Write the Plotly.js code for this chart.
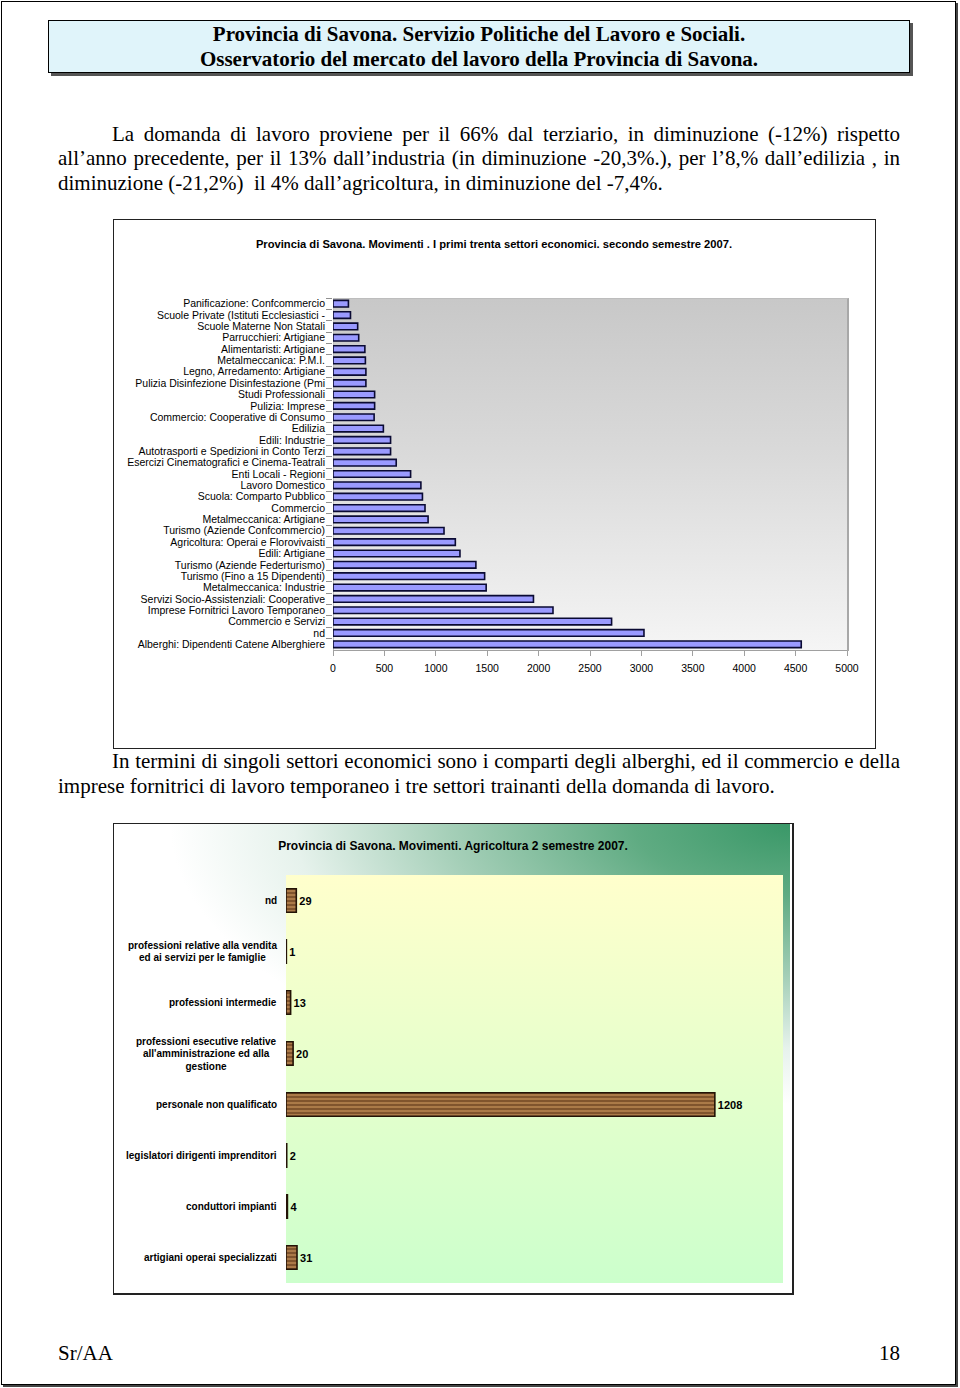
<!DOCTYPE html>
<html>
<head>
<meta charset="utf-8">
<script src="https://cdn.plot.ly/plotly-3.0.1.min.js"></script>
<style>
  html, body { margin:0; padding:0; background:#fff; }
  body { width:960px; height:1388px; position:relative; overflow:hidden; }
  .abs { position:absolute; }
  .serif { font-family:"Liberation Serif","Times New Roman",serif; color:#000; }
  .line { position:absolute; font-size:21px; white-space:nowrap; line-height:24px; }
</style>
</head>
<body>
<!-- page frame -->
<div class="abs" style="left:1px;top:1px;width:953px;height:1382px;border:1px solid #000;box-shadow:2px 2px 0 #444;"></div>

<!-- header box -->
<div class="abs serif" style="left:48px;top:20px;width:860px;height:51px;border:1px solid #000;background:#e0f4fa;box-shadow:3px 3px 0 #555;text-align:center;font-weight:bold;font-size:21px;line-height:25px;">
  <div style="margin-top:1px">Provincia di Savona. Servizio Politiche del Lavoro e Sociali.</div>
  <div>Osservatorio del mercato del lavoro della Provincia di Savona.</div>
</div>

<!-- paragraph 1 -->
<div class="line serif just" data-w="788" style="left:112px;top:122px;">La domanda di lavoro proviene per il 66% dal terziario, in diminuzione (-12%) rispetto</div>
<div class="line serif just" data-w="842" style="left:58px;top:146px;">all’anno precedente, per il 13% dall’industria (in diminuzione -20,3%.), per l’8,% dall’edilizia , in</div>
<div class="line serif" style="left:58px;top:171px;">diminuzione (-21,2%)&nbsp; il 4% dall’agricoltura, in diminuzione del -7,4%.</div>

<!-- top chart frame and background -->
<div class="abs" style="left:113px;top:219px;width:761px;height:528px;border:1px solid #222;"></div>
<div class="abs" style="left:333px;top:298px;width:513px;height:352px;background:linear-gradient(to bottom,#c8c8c8 0%,#dadada 45%,#f5f5f5 100%);border-right:2px solid #a8a8a8;border-top:1px solid #bdbdbd;border-left:1px solid #bdbdbd;"></div>
<div id="chart1" class="abs" style="left:114px;top:220px;width:760px;height:527px;"></div>

<!-- paragraph 2 -->
<div class="line serif just" data-w="788" style="left:112px;top:749px;">In termini di singoli settori economici sono i comparti degli alberghi, ed il commercio e della</div>
<div class="line serif" style="left:58px;top:774px;">imprese fornitrici di lavoro temporaneo i tre settori trainanti della domanda di lavoro.</div>

<!-- bottom chart frame and backgrounds -->
<div class="abs" style="left:113px;top:823px;width:678px;height:469px;border:1px solid #222;border-right:2px solid #222;border-bottom:2px solid #222;"></div>
<div class="abs" style="left:114px;top:824px;width:676px;height:468px;background:radial-gradient(ellipse 620px 280px at 100% 0%, #3a9868 0%, #5fab82 25%, #a5cfb8 55%, #e6f2ec 80%, #ffffff 100%);"></div>
<div class="abs" style="left:286px;top:875px;width:497px;height:408px;background:linear-gradient(to bottom,#ffffcc 0%,#ccffcc 100%);"></div>
<div id="chart2" class="abs" style="left:114px;top:824px;width:678px;height:469px;"></div>

<!-- footer -->
<div class="abs serif" style="left:58px;top:1341px;font-size:21px;">Sr/AA</div>
<div class="abs serif" style="left:879px;top:1341px;font-size:21px;">18</div>

<script>
// ---------- Data: top chart ----------
const sectorLabels = [
  "Panificazione: Confcommercio",
  "Scuole Private (Istituti Ecclesiastici -",
  "Scuole Materne Non Statali",
  "Parrucchieri: Artigiane",
  "Alimentaristi: Artigiane",
  "Metalmeccanica: P.M.I.",
  "Legno, Arredamento: Artigiane",
  "Pulizia Disinfezione Disinfestazione (Pmi",
  "Studi Professionali",
  "Pulizia: Imprese",
  "Commercio: Cooperative di Consumo",
  "Edilizia",
  "Edili: Industrie",
  "Autotrasporti e Spedizioni in Conto Terzi",
  "Esercizi Cinematografici e Cinema-Teatrali",
  "Enti Locali - Regioni",
  "Lavoro Domestico",
  "Scuola: Comparto Pubblico",
  "Commercio",
  "Metalmeccanica: Artigiane",
  "Turismo (Aziende Confcommercio)",
  "Agricoltura: Operai e Florovivaisti",
  "Edili: Artigiane",
  "Turismo (Aziende Federturismo)",
  "Turismo (Fino a 15 Dipendenti)",
  "Metalmeccanica: Industrie",
  "Servizi Socio-Assistenziali: Cooperative",
  "Imprese Fornitrici Lavoro Temporaneo",
  "Commercio e Servizi",
  "nd",
  "Alberghi: Dipendenti Catene Alberghiere"
];
const sectorValues = [
  150, 170, 240, 250, 310, 315, 320, 320, 405, 405,
  400, 490, 560, 560, 615, 755, 855, 870, 895, 925,
  1080, 1190, 1235, 1390, 1475, 1490, 1950, 2140, 2710, 3025,
  4555
];
const topTitle = "Provincia di Savona. Movimenti . I primi trenta settori economici. secondo semestre 2007.";

// ---------- Data: bottom chart ----------
const agriCategories = [
  "nd",
  "professioni relative alla vendita|ed ai servizi per le famiglie",
  "professioni intermedie",
  "professioni esecutive relative|all'amministrazione ed alla|gestione",
  "personale non qualificato",
  "legislatori dirigenti imprenditori",
  "conduttori impianti",
  "artigiani operai specializzati"
];
const agriValues = [29, 1, 13, 20, 1208, 2, 4, 31];
const bottomTitle = "Provincia di Savona. Movimenti. Agricoltura 2 semestre 2007.";

const sans = "Liberation Sans, Arial, sans-serif";

// justify single text lines to an exact width via word-spacing
document.querySelectorAll('.just').forEach(el => {
  const target = +el.dataset.w;
  const natural = el.getBoundingClientRect().width;
  const spaces = (el.textContent.match(/ /g) || []).length;
  if (spaces > 0) el.style.wordSpacing = ((target - natural) / spaces) + 'px';
});

// ---------- Top chart ----------
Plotly.newPlot('chart1', [{
  type: 'bar',
  orientation: 'h',
  x: sectorValues,
  y: sectorLabels,
  width: 0.58,
  marker: { color: '#9a9aff', line: { color: '#0a0a33', width: 1.6 } },
  hoverinfo: 'x+y'
}], {
  width: 760, height: 527,
  margin: { l: 219, r: 27, t: 78, b: 97 },
  paper_bgcolor: 'rgba(0,0,0,0)',
  plot_bgcolor: 'rgba(0,0,0,0)',
  title: { text: '<b>' + topTitle + '</b>', font: { family: sans, size: 11.2, color: '#000' },
           x: 0.5, xanchor: 'center', xref: 'container', y: 1 - 24/527, yanchor: 'middle' },
  showlegend: false,
  bargap: 0.4,
  xaxis: {
    range: [0, 5000], dtick: 500, tick0: 0,
    showgrid: false, zeroline: false,
    showline: true, linecolor: '#a0a0a0', linewidth: 1,
    ticks: 'outside', ticklen: 5, tickcolor: '#a0a0a0',
    ticklabelstandoff: 3,
    tickfont: { family: sans, size: 10.5, color: '#000' },
    fixedrange: true
  },
  yaxis: {
    type: 'category', autorange: 'reversed',
    tickmode: 'linear', dtick: 1, tick0: 0,
    showgrid: false, zeroline: false, showline: false,
    ticks: 'outside', ticklen: 6, tickcolor: '#909090', tickson: 'boundaries',
    ticklabelstandoff: 7,
    tickfont: { family: sans, size: 10.5, color: '#000' },
    fixedrange: true
  }
}, { displayModeBar: false, staticPlot: true });

// ---------- Bottom chart ----------
// category labels: one annotation per text line, centred as a block on the category
const lineH = 12.5;
const labelAnnotations = [];
agriCategories.forEach(c => {
  const parts = c.split('|');
  const widest = Math.max(...parts.map(p => p.length));
  parts.forEach((p, i) => {
    labelAnnotations.push({
      xref: 'paper', x: 0, xshift: -7, xanchor: 'right',
      yref: 'y', y: c, yanchor: 'middle',
      yshift: ((parts.length - 1) / 2 - i) * lineH,
      text: '<b>' + p + '</b>', showarrow: false,
      font: { family: sans, size: 10, color: '#000' },
      _w: widest
    });
  });
});
// centre shorter lines under the widest line of the same block
labelAnnotations.forEach(a => { delete a._w; });

Plotly.newPlot('chart2', [{
  type: 'bar',
  orientation: 'h',
  x: agriValues,
  y: agriCategories,
  width: 0.46,
  text: agriValues.map(v => '<b>' + v + '</b>'),
  textposition: 'outside',
  cliponaxis: false,
  textfont: { family: sans, size: 11, color: '#000' },
  marker: {
    color: '#a06c3a',
    line: { color: '#231306', width: 1.6 },
    pattern: { shape: '-', fgcolor: '#6e4421', bgcolor: '#ab7a48', size: 4, solidity: 0.35, fillmode: 'replace' }
  },
  hoverinfo: 'x+y'
}], {
  width: 678, height: 469,
  margin: { l: 172, r: 9, t: 51, b: 10 },
  paper_bgcolor: 'rgba(0,0,0,0)',
  plot_bgcolor: 'rgba(0,0,0,0)',
  title: { text: '<b>' + bottomTitle + '</b>', font: { family: sans, size: 12, color: '#000' },
           x: 0.5, xanchor: 'center', xref: 'container', y: 1 - 22/469, yanchor: 'middle' },
  showlegend: false,
  annotations: labelAnnotations,
  xaxis: { range: [0, 1400], visible: false, showgrid: false, zeroline: false, fixedrange: true },
  yaxis: { type: 'category', autorange: 'reversed', showticklabels: false, showgrid: false,
           zeroline: false, ticks: '', fixedrange: true }
}, { displayModeBar: false, staticPlot: true }).then(gd => {
  // centre the lines of multi-line labels on a common axis (like the reference)
  const texts = gd.querySelectorAll('.annotation');
  let idx = 0;
  agriCategories.forEach(c => {
    const parts = c.split('|');
    if (parts.length > 1) {
      const group = [];
      for (let i = 0; i < parts.length; i++) group.push(texts[idx + i]);
      const widths = group.map(g => g.getBBox().width);
      const maxW = Math.max(...widths);
      group.forEach((g, i) => {
        const dx = -(maxW - widths[i]) / 2;
        g.setAttribute('transform', (g.getAttribute('transform') || '') + ' translate(' + dx + ',0)');
      });
    }
    idx += parts.length;
  });
});
</script>
</body>
</html>
